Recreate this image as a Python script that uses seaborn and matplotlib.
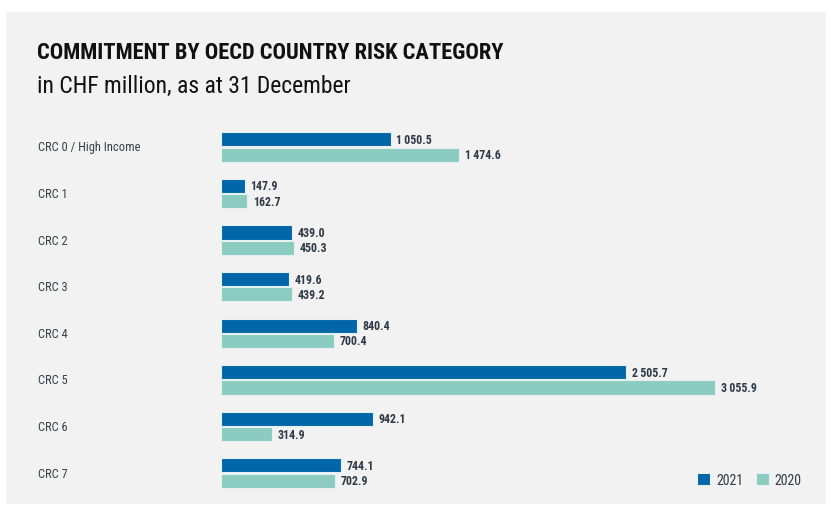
import matplotlib
matplotlib.use("Agg")
import matplotlib.pyplot as plt
import seaborn as sns
import pandas as pd
from matplotlib.patches import Rectangle

categories = ["CRC 0 / High Income", "CRC 1", "CRC 2", "CRC 3", "CRC 4", "CRC 5", "CRC 6", "CRC 7"]
values_2021 = [1050.5, 147.9, 439.0, 419.6, 840.4, 2505.7, 942.1, 744.1]
values_2020 = [1474.6, 162.7, 450.3, 439.2, 700.4, 3055.9, 314.9, 702.9]
series = ["2021", "2020"]
colors = {"2021": "#0066a8", "2020": "#8ccbc0"}

title = "COMMITMENT BY OECD COUNTRY RISK CATEGORY"
subtitle = "in CHF million, as at 31 December"

df = pd.DataFrame({
    "category": categories * 2,
    "value": values_2021 + values_2020,
    "year": ["2021"] * len(categories) + ["2020"] * len(categories),
})

sns.set_theme(style="white")
FONT = ["Roboto Condensed", "DejaVu Sans"]
plt.rcParams["font.family"] = FONT

fig = plt.figure(figsize=(8.31, 5.10), dpi=100)
fig.patch.set_facecolor("white")
# gray panel
fig.patches.append(Rectangle((6 / 831, 1 - 505 / 510), 820 / 831, 492 / 510,
                             transform=fig.transFigure, facecolor="#f2f2f2",
                             edgecolor="none", zorder=-10))

ax = fig.add_axes([221 / 831, 1 - 497.3 / 510, 605 / 831, 372.6 / 510])
ax.set_facecolor("none")
sns.barplot(data=df, y="category", x="value", hue="year", hue_order=series,
            order=categories, palette=colors, saturation=1, orient="h",
            width=0.66, gap=0.08, edgecolor="#e3f1f3", linewidth=0.8,
            legend=False, ax=ax)

ax.set_xlim(0, 3742)
ax.set_ylim(7.5, -0.5)
for s in ax.spines.values():
    s.set_visible(False)
ax.set_xticks([])
ax.set_xlabel("")
ax.set_ylabel("")
ax.tick_params(axis="y", length=0, pad=0)
ax.set_yticks(range(len(categories)))
ax.set_yticklabels([])

# category labels
for i, c in enumerate(categories):
    ax.text(-183 / 605 * 3742, i, c, ha="left", va="center", fontsize=9,
            color="#3a3f4a", family=FONT)

# value labels
for cont in ax.containers:
    labels = [f"{b.get_width():,.1f}".replace(",", "\u2009") for b in cont]
    ax.bar_label(cont, labels=labels, padding=4, fontsize=8.6, fontweight="bold",
                 color="#2f3a48", family=FONT)

fig.text(37 / 831, 1 - 53 / 510, title, ha="left", va="center", fontsize=16.2,
         fontweight="bold", color="#111111", family=FONT)
fig.text(37 / 831, 1 - 86 / 510, subtitle, ha="left", va="center", fontsize=17,
         color="#111111", family=FONT)

# legend
handles = [Rectangle((0, 0), 1, 1, facecolor=colors[s], edgecolor="#e3f1f3", linewidth=0.8)
           for s in series]
leg = fig.legend(handles, series, loc="center right", bbox_to_anchor=(811 / 831, 1 - 481 / 510),
                 ncol=2, frameon=False, handlelength=0.95, handleheight=0.95,
                 handletextpad=0.4, columnspacing=0.9, borderpad=0.2,
                 prop={"family": FONT, "size": 10})
for t in leg.get_texts():
    t.set_color("#2f3a48")

fig.savefig("out.png", dpi=100, facecolor="white")
